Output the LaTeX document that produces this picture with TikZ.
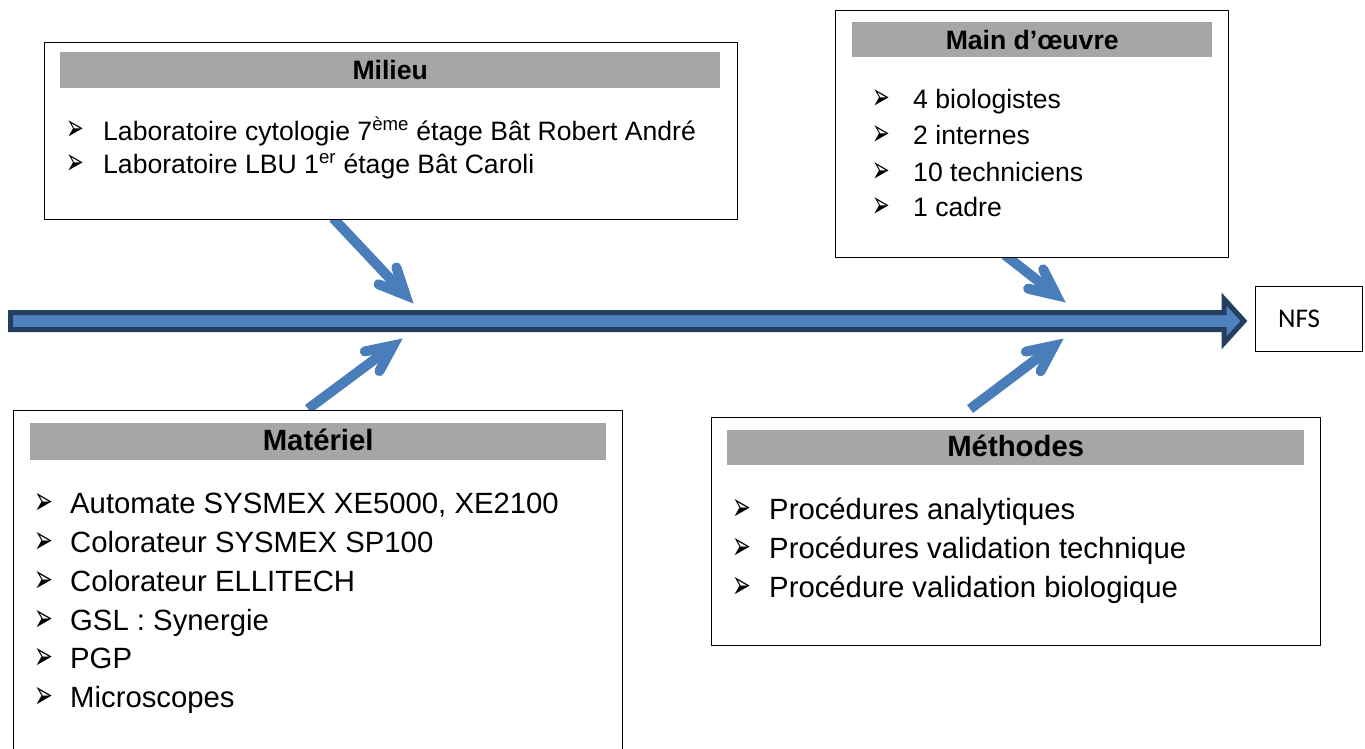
\documentclass[tikz,border=0pt]{standalone}
\usepackage{fontspec}
\usepackage{graphicx}
\setmainfont{Liberation Sans}
\newfontfamily\bulfont{DejaVu Sans}
\newfontfamily\nfsfont{Carlito}
\usetikzlibrary{calc}
\definecolor{arrowblue}{HTML}{4A7EBB}
\definecolor{spinedark}{HTML}{243F60}
\definecolor{spinelight}{HTML}{4F81BD}
\definecolor{headgray}{HTML}{A6A6A6}
\newcommand{\mybul}{\smash{\scalebox{0.68}[1.2]{➢}}}
\tikzset{
  box/.style={draw=black, line width=1.3pt, fill=white, inner sep=0pt, anchor=north west},
  bar/.style={fill=headgray, inner sep=0pt, anchor=north west},
  txtA/.style={font=\fontsize{26.6}{30}\selectfont, anchor=base west, inner sep=0pt},
  txtB/.style={font=\fontsize{29.3}{33}\selectfont, anchor=base west, inner sep=0pt},
  hdA/.style={font=\fontsize{26.6}{30}\selectfont\bfseries},
  hdB/.style={font=\fontsize{29.3}{33}\selectfont\bfseries},
  bulA/.style={font=\bulfont\fontsize{31}{34}\selectfont, anchor=base west, inner sep=0pt},
  bulB/.style={font=\bulfont\fontsize{33}{36}\selectfont, anchor=base west, inner sep=0pt},
  shaft/.style={draw=arrowblue, line width=10pt, line cap=butt},
  chev/.style={draw=arrowblue, line width=10pt, line cap=round, line join=miter},
  spine/.style={draw=spinedark, fill=spinelight, line width=5pt, line join=miter}
}
\begin{document}
\begin{tikzpicture}[x=1pt, y=-1pt]
\useasboundingbox (0,0) rectangle (1365,749);

% main spine arrow
\coordinate (spS) at (10.5,321);
\draw[spine] (spS) ++(0,-8.5) -- (1224,312.5) -- (1224,299) -- (1244,321) -- (1224,343) -- (1224,329.5) -- (10.5,329.5) -- cycle;

% small arrows
\coordinate (a1s) at (333,218);
\coordinate (a1t) at (413,303);
\coordinate (a2s) at (308,409);
\coordinate (a2t) at (402,339);
\coordinate (a3s) at (1005,255);
\coordinate (a3t) at (1065,302);
\coordinate (a4s) at (970,409);
\coordinate (a4t) at (1063,339);
\foreach \s/\t in {a1s/a1t,a2s/a2t,a3s/a3t,a4s/a4t}{
  \coordinate (g) at ($(\t)!11pt!(\s)$);
  \draw[shaft] (\s) -- ($(g)!4pt!(\s)$);
  \draw[chev] ($(g)!29pt!25:(\s)$) -- (g) -- ($(g)!29pt!-25:(\s)$);
}

% Milieu
\node[box, minimum width=693pt, minimum height=177pt] (milieu) at (44,42) {};
\node[bar, minimum width=660pt, minimum height=36pt] (milieuH) at (60,52) {};
\node[hdA] (milieuT) at (milieuH.center) {Milieu};
\node[bulA] (mb1) at (66,141) {\mybul};
\node[txtA] (mt1) at (103,140) {Laboratoire cytologie 7\textsuperscript{ème} étage Bât Robert André};
\node[bulA] (mb2) at (66,174) {\mybul};
\node[txtA] (mt2) at (103,173) {Laboratoire LBU 1\textsuperscript{er} étage Bât Caroli};

% Main d'oeuvre
\node[box, minimum width=393pt, minimum height=247pt] (mo) at (835,10) {};
\node[bar, minimum width=360pt, minimum height=35pt] (moH) at (852,22) {};
\node[hdA] (moT) at (moH.center) {Main d’œuvre};
\foreach \y/\t [count=\i] in {109/4 biologistes,145/2 internes,181/10 techniciens,216/1 cadre}{
  \node[bulA] (ob\i) at (872,\y+1) {\mybul};
  \node[txtA] (ot\i) at (913,\y) {\t};
}

% Materiel
\node[box, minimum width=609pt, minimum height=360pt] (mat) at (13,410) {};
\node[bar, minimum width=576pt, minimum height=37pt] (matH) at (30,423) {};
\node[hdB] (matT) at ($(matH.center)+(0,-2)$) {Matériel};
\foreach \y/\t [count=\i] in {513.5/{Automate SYSMEX XE5000, XE2100},552/Colorateur SYSMEX SP100,591/Colorateur ELLITECH,630/GSL : Synergie,668.5/PGP,707/Microscopes}{
  \node[bulB] (ab\i) at (34,\y+1) {\mybul};
  \node[txtB] (at\i) at (70,\y) {\t};
}

% Methodes
\node[box, minimum width=609pt, minimum height=228pt] (met) at (711,417) {};
\node[bar, minimum width=577pt, minimum height=35pt] (metH) at (727,430) {};
\node[hdB] (metT) at ($(metH.center)+(0,-2)$) {Méthodes};
\foreach \y/\t [count=\i] in {519.5/Procédures analytiques,558.5/Procédures validation technique,597.5/Procédure validation biologique}{
  \node[bulB] (eb\i) at (732,\y+1) {\mybul};
  \node[txtB] (et\i) at (769,\y) {\t};
}

% NFS
\node[box, minimum width=107pt, minimum height=65pt] (nfs) at (1255,286) {};
\node[font=\nfsfont\fontsize{27}{31}\selectfont, inner sep=0pt] (nfsT) at ($(nfs.center)+(-10,0)$) {NFS};
\end{tikzpicture}
\end{document}
